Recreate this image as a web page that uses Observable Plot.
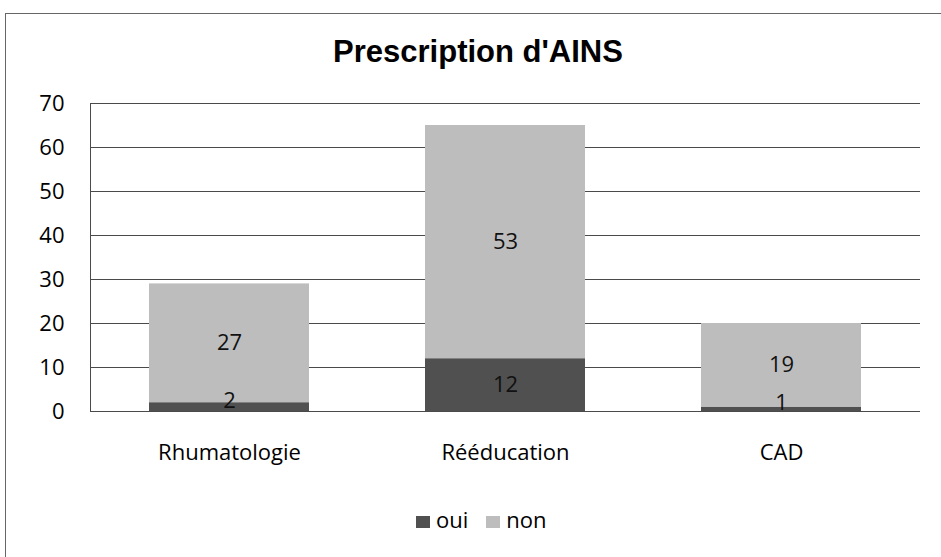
<!DOCTYPE html>
<html>
<head>
<meta charset="utf-8">
<script src="https://cdn.jsdelivr.net/npm/d3@7"></script>
<script src="https://cdn.jsdelivr.net/npm/@observablehq/plot@0.6"></script>
<style>
  html, body { margin: 0; padding: 0; background: #fff; overflow: hidden; width: 941px; height: 557px; }
  #wrap { position: relative; width: 941px; height: 557px; }
  #frame { position: absolute; left: 5px; top: 13px; width: 960px; height: 600px; border: 1px solid #666; box-sizing: border-box; }
  #title { position: absolute; left: 0; width: 956px; top: 36px; text-align: center; font-family: "Liberation Sans", Arial, sans-serif; font-weight: bold; font-size: 31px; line-height: 31px; color: #000; }
  #chart { position: absolute; left: 0; top: 0; }
  #legend { position: absolute; left: 416px; top: 508px; font-family: "Open Sans", sans-serif; font-size: 22px; line-height: 22px; color: #000; white-space: nowrap; }
  .sw { display: inline-block; width: 14px; height: 12px; vertical-align: baseline; margin-right: 6px; }
  .item { display: inline-block; margin-right: 18px; }
</style>
</head>
<body>
<div id="wrap">
  <div id="frame"></div>
  <div id="title">Prescription d'AINS</div>
  <div id="chart"></div>
  <div id="legend"></div>
</div>
<script>
const categories = ["Rhumatologie", "Rééducation", "CAD"];
const series = ["oui", "non"];
const ouiValues = [2, 12, 1];
const nonValues = [27, 53, 19];
const yTicks = [0, 10, 20, 30, 40, 50, 60, 70];
const colors = ["#505050", "#bdbdbd"];

const data = [];
categories.forEach((c, i) => {
  data.push({cat: c, series: "oui", value: ouiValues[i]});
  data.push({cat: c, series: "non", value: nonValues[i]});
});
const smallData = data.filter(d => d.series === "oui" && d.value < 3);

const font = "'Open Sans', sans-serif";

const chart = Plot.plot({
  width: 941,
  height: 480,
  marginTop: 103,
  marginBottom: 69,
  marginLeft: 90,
  marginRight: 21,
  style: {fontFamily: font, fontSize: "22px", color: "#000", background: "transparent", overflow: "visible"},
  x: {domain: categories, paddingInner: 0.42, paddingOuter: 0.21, label: null},
  y: {domain: [0, 70], label: null},
  color: {domain: series, range: colors},
  marks: [
    Plot.gridY(yTicks, {stroke: "#4a4a4a", strokeOpacity: 1, strokeWidth: 1}),
    Plot.frame({anchor: "left", stroke: "#4a4a4a", strokeWidth: 1}),
    Plot.barY(data, {x: "cat", y: "value", fill: "series"}),
    Plot.text(data, Plot.stackY({x: "cat", y: "value", z: "series", text: d => d.series === "oui" && d.value < 3 ? "" : String(d.value), fill: "#111", fontSize: 22, fontFamily: font})),
    Plot.text(smallData, Plot.stackY({x: "cat", y: "value", z: "series", text: d => String(d.value), fill: "#111", fontSize: 22, fontFamily: font, dy: -6})),
    Plot.axisY({ticks: yTicks, tickSize: 0, tickPadding: 26, fontSize: 22, fontFamily: font, fill: "#000"}),
    Plot.axisX({tickSize: 0, tickPadding: 33, fontSize: 22, fontFamily: font, fill: "#000"})
  ]
});
document.getElementById("chart").appendChild(chart);

const legend = document.getElementById("legend");
series.forEach((s, i) => {
  const item = document.createElement("span");
  item.className = "item";
  const sw = document.createElement("span");
  sw.className = "sw";
  sw.style.background = colors[i];
  item.appendChild(sw);
  item.appendChild(document.createTextNode(s));
  legend.appendChild(item);
});
</script>
</body>
</html>
